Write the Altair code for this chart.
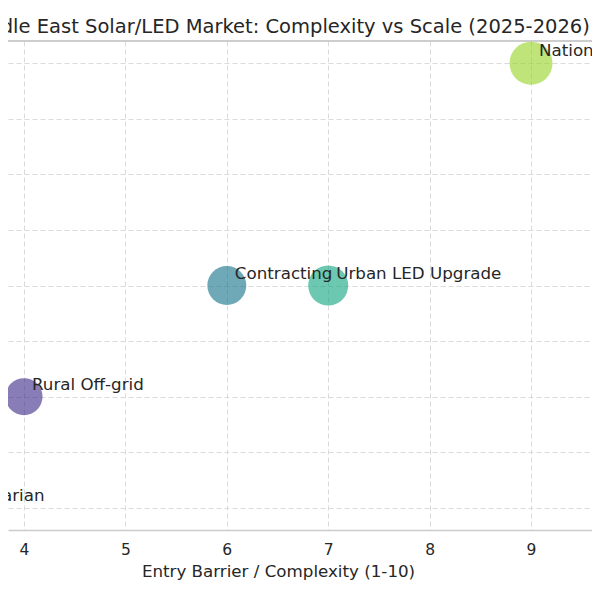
import altair as alt
import pandas as pd

segments = ["Humanitarian", "Rural Off-grid", "Contracting", "Urban LED Upgrade", "National Utility-Scale Solar"]
complexity = [3, 4, 6, 7, 9]
market_scale = [1, 2, 3, 3, 5]
market_size = [600, 740, 820, 865, 1000]
colors = ["#440154", "#3a2788", "#0f6e85", "#0aa47c", "#95d221"]

x_ticks = [3, 4, 5, 6, 7, 8, 9]
y_ticks = [1, 1.5, 2, 2.5, 3, 3.5, 4, 4.5, 5]

df = pd.DataFrame({
    "segment": segments,
    "complexity": complexity,
    "scale": market_scale,
    "size": market_size,
})

FONT = "DejaVu Sans"
TXT = "#262626"
W = 584

x_enc = alt.X("complexity:Q",
              scale=alt.Scale(domain=[3.842, 9.6016], nice=False, zero=False),
              axis=alt.Axis(values=x_ticks, format="d", title="Entry Barrier / Complexity (1-10)",
                            titleX=270, titleAlign="center", titleAnchor="middle",
                            labelFontSize=15.5, titleFontSize=16.7, labelColor=TXT, titleColor=TXT,
                            labelFont=FONT, titleFont=FONT, titleFontWeight="normal",
                            ticks=False, labelPadding=12, titlePadding=6,
                            domainColor="#cccccc", domainWidth=1.5,
                            grid=True, gridColor="#dadada", gridDash=[5, 3], gridWidth=1))
y_enc = alt.Y("scale:Q",
              scale=alt.Scale(domain=[0.8, 5.2], nice=False, zero=False),
              axis=alt.Axis(values=y_ticks, title=None, labels=False, ticks=False, domain=False,
                            grid=True, gridColor="#dadada", gridDash=[5, 3], gridWidth=1))

points = alt.Chart(df).mark_circle(fillOpacity=0.6, strokeOpacity=0.6, strokeWidth=1, clip=True).encode(
    x=x_enc,
    y=y_enc,
    size=alt.Size("size:Q", scale=alt.Scale(domain=[0, 1000], range=[0, 1849]), legend=None),
    color=alt.Color("segment:N", scale=alt.Scale(domain=segments, range=colors), legend=None),
)

labels = alt.Chart(df).mark_text(align="left", baseline="alphabetic", dx=8, dy=-7,
                                 fontSize=16.7, font=FONT, color=TXT).encode(
    x="complexity:Q",
    y="scale:Q",
    text="segment:N",
)

top_spine = alt.Chart(df).mark_rule(color="#cccccc", strokeWidth=1.5).encode(
    x=alt.value(0), x2=alt.value(W), y=alt.value(0)
)

chart = alt.layer(points, labels, top_spine).properties(
    width=W,
    height=489,
    autosize=alt.AutoSizeParams(type="none"),
    padding={"left": 0, "top": 33, "right": 0, "bottom": 60},
    title=alt.TitleParams("Middle East Solar/LED Market: Complexity vs Scale (2025-2026)",
                          anchor="middle", dx=-22, fontSize=19.5, font=FONT,
                          fontWeight="normal", color=TXT, offset=3),
).configure_view(stroke=None)

chart.save("out.html", embed_options={"renderer": "svg", "actions": False})
